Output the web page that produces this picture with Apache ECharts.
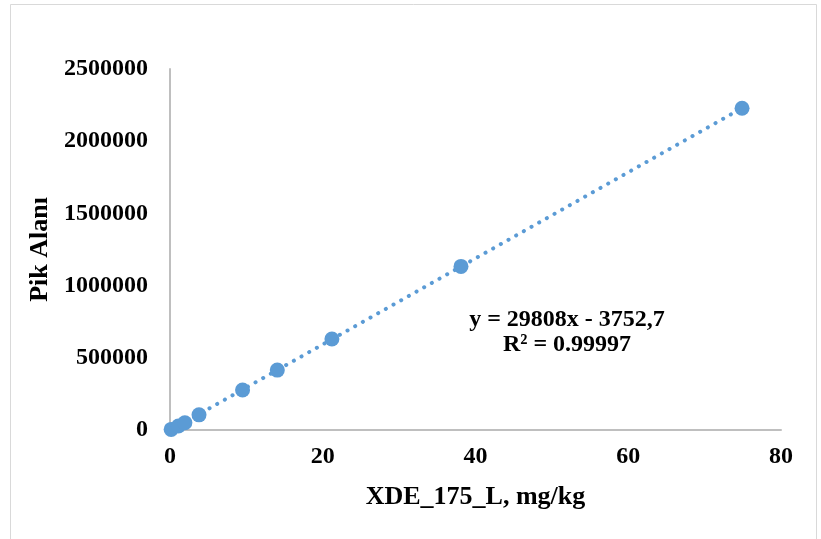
<!DOCTYPE html>
<html>
<head>
<meta charset="utf-8">
<script src="https://cdn.jsdelivr.net/npm/echarts@6/dist/echarts.min.js"></script>
<style>html,body{margin:0;padding:0;background:#fff;}#c{width:821px;height:539px;}</style>
</head>
<body>
<div id="c"></div>
<script>
// ---- data ----
var xValues = [0.15, 1.1, 1.95, 3.8, 9.5, 14.05, 21.2, 38.1, 74.9];
var yValues = [4000, 28000, 50000, 105000, 277000, 415000, 630000, 1133000, 2228000];
var slope = 29808;
var intercept = -3752.7;
var equationText = 'y = 29808x - 3752,7';
var r2Text = 'R² = 0.99997';
var xTitle = 'XDE_175_L, mg/kg';
var yTitle = 'Pik Alanı';
var xTicks = {min: 0, max: 80, interval: 20};
var yTicks = {min: 0, max: 2500000, interval: 500000};

var points = xValues.map(function (x, i) { return [x, yValues[i]]; });
var xMin = Math.min.apply(null, xValues), xMax = Math.max.apply(null, xValues);
var trend = [[xMin, slope * xMin + intercept], [xMax, slope * xMax + intercept]];

var font = '"Liberation Serif", "Times New Roman", serif';
var blue = '#5B9BD5';
var chart = echarts.init(document.getElementById('c'), null, {renderer: 'canvas'});
chart.setOption({
  animation: false,
  backgroundColor: '#fff',
  grid: {left: 170, right: 40, top: 69, bottom: 109},
  xAxis: {
    type: 'value', min: xTicks.min, max: xTicks.max, interval: xTicks.interval,
    name: xTitle, nameLocation: 'middle', nameGap: 54,
    nameTextStyle: {fontFamily: font, fontWeight: 'bold', fontSize: 26, color: '#000'},
    axisLine: {show: true, onZero: false, lineStyle: {color: '#BFBFBF', width: 2}},
    axisTick: {show: false}, splitLine: {show: false},
    axisLabel: {fontFamily: font, fontWeight: 'bold', fontSize: 24, color: '#000', margin: 15,
      formatter: function (v) { return String(v); }}
  },
  yAxis: {
    type: 'value', min: yTicks.min, max: yTicks.max, interval: yTicks.interval,
    name: yTitle, nameLocation: 'middle', nameGap: 91, nameRotate: 90,
    nameTextStyle: {fontFamily: font, fontWeight: 'bold', fontSize: 26, color: '#000'},
    axisLine: {show: true, lineStyle: {color: '#BFBFBF', width: 2}},
    axisTick: {show: false}, splitLine: {show: false},
    axisLabel: {fontFamily: font, fontWeight: 'bold', fontSize: 24, color: '#000', margin: 22,
      formatter: function (v) { return String(v); }}
  },
  series: [
    {
      type: 'line', data: trend, showSymbol: false, symbol: 'none', z: 1,
      lineStyle: {color: blue, width: 4, type: [0.1, 8.7], cap: 'round'}
    },
    {
      type: 'scatter', data: points, symbol: 'circle', symbolSize: 15, z: 2,
      itemStyle: {color: blue, opacity: 1}
    }
  ],
  graphic: [
    {type: 'rect', left: 8, top: 2, shape: {width: 806, height: 535},
     style: {fill: 'none', stroke: '#D9D9D9', lineWidth: 1}, silent: true},
    {type: 'text', x: 567, y: 320, style: {text: equationText, fontFamily: font, fontWeight: 'bold',
      fontSize: 24, fill: '#000', align: 'center', verticalAlign: 'middle'}},
    {type: 'text', x: 567, y: 345, style: {text: r2Text, fontFamily: font, fontWeight: 'bold',
      fontSize: 24, fill: '#000', align: 'center', verticalAlign: 'middle'}}
  ]
});
</script>
</body>
</html>
